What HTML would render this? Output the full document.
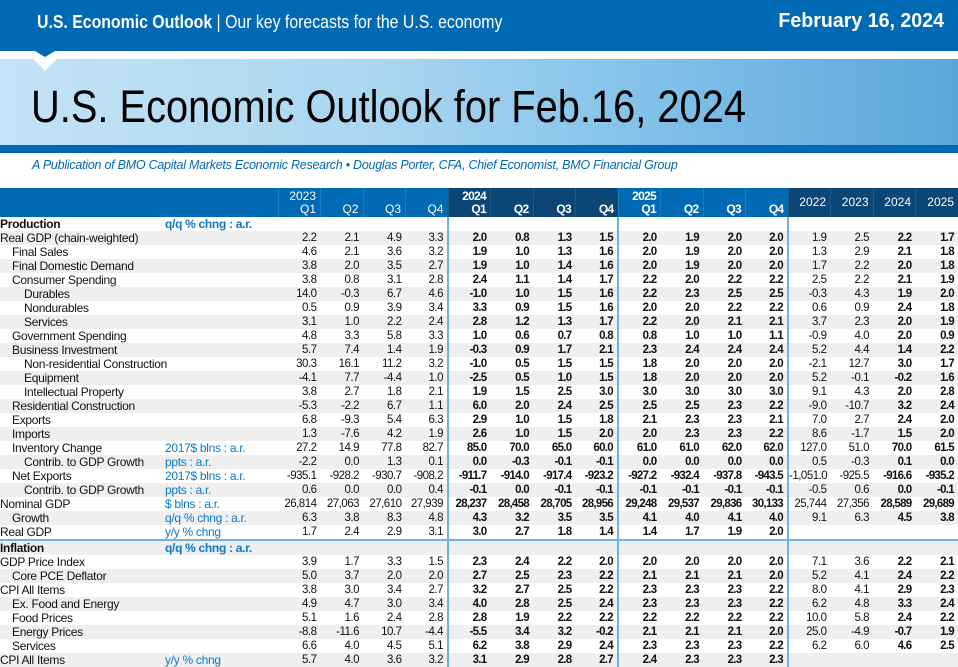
<!DOCTYPE html>
<html><head><meta charset="utf-8">
<style>
*{margin:0;padding:0;box-sizing:border-box}
body{width:958px;height:656px;overflow:hidden;background:#fff;font-family:"Liberation Sans",sans-serif;position:relative}
.top{position:absolute;left:0;top:0;width:958px;height:51px;background:#0069b4;color:#fff}
.top .l{position:absolute;left:37px;top:12px;font-size:18px;transform:scaleX(0.88);transform-origin:left;white-space:nowrap}
.top .r{position:absolute;right:14px;top:10px;font-size:20px;font-weight:bold;transform:scaleX(0.98);transform-origin:right}
.ban{position:absolute;left:0;top:59px;width:958px;height:86px;background:linear-gradient(90deg,#c4e3f6 0%,#a9d6f1 40%,#7fbfe8 70%,#5aa6dc 100%)}
.ban h1{position:absolute;left:31px;top:22px;font-weight:normal;font-size:45px;color:#000;transform:scaleX(0.885);transform-origin:left;white-space:nowrap}
.bar2{position:absolute;left:0;top:145px;width:958px;height:8px;background:#0069b4}
.sub{position:absolute;left:32px;top:158px;font-size:12.5px;font-style:italic;color:#0069b4;letter-spacing:-0.25px;white-space:nowrap}
table{position:absolute;left:0;top:188px;width:958px;border-collapse:collapse;table-layout:fixed;font-size:11.5px;letter-spacing:-0.5px}
td{height:14px;line-height:14px;padding:0 4px 0 0;text-align:right;white-space:nowrap;overflow:visible;color:#111}
td:nth-child(1){text-align:left;padding:0;letter-spacing:-0.3px;font-size:12px}
td:nth-child(2){text-align:left;color:#0a78c8;padding:0;letter-spacing:-0.3px;font-size:12px}
td:nth-child(n+7):nth-child(-n+14),td:nth-child(17),td:nth-child(18){font-weight:bold;letter-spacing:-0.7px}
td:nth-child(7),td:nth-child(11),td:nth-child(15){border-left:2px solid #6fb1e2}
tr.g td{background:#efefef}
tr.h td{height:29px;line-height:13px;color:#fff;background:#0069b4;vertical-align:bottom;padding-bottom:1px;border-left:1px solid #1a7cc2;font-weight:normal;font-size:12px;letter-spacing:0}
tr.h td.n{background:#0b4677;border-left:1px solid #1d5a8a}
tr.h td.a{vertical-align:middle;padding-bottom:0}
tr.h td:nth-child(1),tr.h td:nth-child(2){border-left:none}
tr.s td{font-weight:bold}
.i1{padding-left:12px!important}.i2{padding-left:24px!important}
tr.ln td{border-bottom:2px solid #6fb1e2}
</style></head><body>
<div class="top"><div class="l"><b>U.S. Economic Outlook</b> | Our key forecasts for the U.S. economy</div><div class="r">February 16, 2024</div></div>
<div class="ban"><h1>U.S. Economic Outlook for Feb.16, 2024</h1></div>
<svg style="position:absolute;left:0;top:51px" width="80" height="22"><polygon points="35,0 55,0 45,6" fill="#0069b4"/><polygon points="33,8 57,8 45,20" fill="#fff"/></svg>
<div class="bar2"></div>
<div class="sub">A Publication of BMO Capital Markets Economic Research • Douglas Porter, CFA, Chief Economist, BMO Financial Group</div>
<table>
<colgroup><col style="width:165px"><col style="width:113px"><col span="16" style="width:42.5px"></colgroup>
<tr class="h"><td></td><td></td><td>2023<br>Q1</td><td>Q2</td><td>Q3</td><td>Q4</td><td class="n">2024<br>Q1</td><td class="n">Q2</td><td class="n">Q3</td><td class="n">Q4</td><td>2025<br>Q1</td><td>Q2</td><td>Q3</td><td>Q4</td><td class="n a">2022</td><td class="n a">2023</td><td class="n a">2024</td><td class="n a">2025</td></tr>
<tr class="s"><td>Production</td><td>q/q % chng : a.r.</td><td></td><td></td><td></td><td></td><td></td><td></td><td></td><td></td><td></td><td></td><td></td><td></td><td></td><td></td><td></td><td></td></tr>
<tr class="g"><td>Real GDP (chain-weighted)</td><td></td><td>2.2</td><td>2.1</td><td>4.9</td><td>3.3</td><td>2.0</td><td>0.8</td><td>1.3</td><td>1.5</td><td>2.0</td><td>1.9</td><td>2.0</td><td>2.0</td><td>1.9</td><td>2.5</td><td>2.2</td><td>1.7</td></tr>
<tr><td class="i1">Final Sales</td><td></td><td>4.6</td><td>2.1</td><td>3.6</td><td>3.2</td><td>1.9</td><td>1.0</td><td>1.3</td><td>1.6</td><td>2.0</td><td>1.9</td><td>2.0</td><td>2.0</td><td>1.3</td><td>2.9</td><td>2.1</td><td>1.8</td></tr>
<tr class="g"><td class="i1">Final Domestic Demand</td><td></td><td>3.8</td><td>2.0</td><td>3.5</td><td>2.7</td><td>1.9</td><td>1.0</td><td>1.4</td><td>1.6</td><td>2.0</td><td>1.9</td><td>2.0</td><td>2.0</td><td>1.7</td><td>2.2</td><td>2.0</td><td>1.8</td></tr>
<tr><td class="i1">Consumer Spending</td><td></td><td>3.8</td><td>0.8</td><td>3.1</td><td>2.8</td><td>2.4</td><td>1.1</td><td>1.4</td><td>1.7</td><td>2.2</td><td>2.0</td><td>2.2</td><td>2.2</td><td>2.5</td><td>2.2</td><td>2.1</td><td>1.9</td></tr>
<tr class="g"><td class="i2">Durables</td><td></td><td>14.0</td><td>-0.3</td><td>6.7</td><td>4.6</td><td>-1.0</td><td>1.0</td><td>1.5</td><td>1.6</td><td>2.2</td><td>2.3</td><td>2.5</td><td>2.5</td><td>-0.3</td><td>4.3</td><td>1.9</td><td>2.0</td></tr>
<tr><td class="i2">Nondurables</td><td></td><td>0.5</td><td>0.9</td><td>3.9</td><td>3.4</td><td>3.3</td><td>0.9</td><td>1.5</td><td>1.6</td><td>2.0</td><td>2.0</td><td>2.2</td><td>2.2</td><td>0.6</td><td>0.9</td><td>2.4</td><td>1.8</td></tr>
<tr class="g"><td class="i2">Services</td><td></td><td>3.1</td><td>1.0</td><td>2.2</td><td>2.4</td><td>2.8</td><td>1.2</td><td>1.3</td><td>1.7</td><td>2.2</td><td>2.0</td><td>2.1</td><td>2.1</td><td>3.7</td><td>2.3</td><td>2.0</td><td>1.9</td></tr>
<tr><td class="i1">Government Spending</td><td></td><td>4.8</td><td>3.3</td><td>5.8</td><td>3.3</td><td>1.0</td><td>0.6</td><td>0.7</td><td>0.8</td><td>0.8</td><td>1.0</td><td>1.0</td><td>1.1</td><td>-0.9</td><td>4.0</td><td>2.0</td><td>0.9</td></tr>
<tr class="g"><td class="i1">Business Investment</td><td></td><td>5.7</td><td>7.4</td><td>1.4</td><td>1.9</td><td>-0.3</td><td>0.9</td><td>1.7</td><td>2.1</td><td>2.3</td><td>2.4</td><td>2.4</td><td>2.4</td><td>5.2</td><td>4.4</td><td>1.4</td><td>2.2</td></tr>
<tr><td class="i2">Non-residential Construction</td><td></td><td>30.3</td><td>16.1</td><td>11.2</td><td>3.2</td><td>-1.0</td><td>0.5</td><td>1.5</td><td>1.5</td><td>1.8</td><td>2.0</td><td>2.0</td><td>2.0</td><td>-2.1</td><td>12.7</td><td>3.0</td><td>1.7</td></tr>
<tr class="g"><td class="i2">Equipment</td><td></td><td>-4.1</td><td>7.7</td><td>-4.4</td><td>1.0</td><td>-2.5</td><td>0.5</td><td>1.0</td><td>1.5</td><td>1.8</td><td>2.0</td><td>2.0</td><td>2.0</td><td>5.2</td><td>-0.1</td><td>-0.2</td><td>1.6</td></tr>
<tr><td class="i2">Intellectual Property</td><td></td><td>3.8</td><td>2.7</td><td>1.8</td><td>2.1</td><td>1.9</td><td>1.5</td><td>2.5</td><td>3.0</td><td>3.0</td><td>3.0</td><td>3.0</td><td>3.0</td><td>9.1</td><td>4.3</td><td>2.0</td><td>2.8</td></tr>
<tr class="g"><td class="i1">Residential Construction</td><td></td><td>-5.3</td><td>-2.2</td><td>6.7</td><td>1.1</td><td>6.0</td><td>2.0</td><td>2.4</td><td>2.5</td><td>2.5</td><td>2.5</td><td>2.3</td><td>2.2</td><td>-9.0</td><td>-10.7</td><td>3.2</td><td>2.4</td></tr>
<tr><td class="i1">Exports</td><td></td><td>6.8</td><td>-9.3</td><td>5.4</td><td>6.3</td><td>2.9</td><td>1.0</td><td>1.5</td><td>1.8</td><td>2.1</td><td>2.3</td><td>2.3</td><td>2.1</td><td>7.0</td><td>2.7</td><td>2.4</td><td>2.0</td></tr>
<tr class="g"><td class="i1">Imports</td><td></td><td>1.3</td><td>-7.6</td><td>4.2</td><td>1.9</td><td>2.6</td><td>1.0</td><td>1.5</td><td>2.0</td><td>2.0</td><td>2.3</td><td>2.3</td><td>2.2</td><td>8.6</td><td>-1.7</td><td>1.5</td><td>2.0</td></tr>
<tr><td class="i1">Inventory Change</td><td>2017$ blns : a.r.</td><td>27.2</td><td>14.9</td><td>77.8</td><td>82.7</td><td>85.0</td><td>70.0</td><td>65.0</td><td>60.0</td><td>61.0</td><td>61.0</td><td>62.0</td><td>62.0</td><td>127.0</td><td>51.0</td><td>70.0</td><td>61.5</td></tr>
<tr class="g"><td class="i2">Contrib. to GDP Growth</td><td>ppts : a.r.</td><td>-2.2</td><td>0.0</td><td>1.3</td><td>0.1</td><td>0.0</td><td>-0.3</td><td>-0.1</td><td>-0.1</td><td>0.0</td><td>0.0</td><td>0.0</td><td>0.0</td><td>0.5</td><td>-0.3</td><td>0.1</td><td>0.0</td></tr>
<tr><td class="i1">Net Exports</td><td>2017$ blns : a.r.</td><td>-935.1</td><td>-928.2</td><td>-930.7</td><td>-908.2</td><td>-911.7</td><td>-914.0</td><td>-917.4</td><td>-923.2</td><td>-927.2</td><td>-932.4</td><td>-937.8</td><td>-943.5</td><td>-1,051.0</td><td>-925.5</td><td>-916.6</td><td>-935.2</td></tr>
<tr class="g"><td class="i2">Contrib. to GDP Growth</td><td>ppts : a.r.</td><td>0.6</td><td>0.0</td><td>0.0</td><td>0.4</td><td>-0.1</td><td>0.0</td><td>-0.1</td><td>-0.1</td><td>-0.1</td><td>-0.1</td><td>-0.1</td><td>-0.1</td><td>-0.5</td><td>0.6</td><td>0.0</td><td>-0.1</td></tr>
<tr><td>Nominal GDP</td><td>$ blns : a.r.</td><td>26,814</td><td>27,063</td><td>27,610</td><td>27,939</td><td>28,237</td><td>28,458</td><td>28,705</td><td>28,956</td><td>29,248</td><td>29,537</td><td>29,836</td><td>30,133</td><td>25,744</td><td>27,356</td><td>28,589</td><td>29,689</td></tr>
<tr class="g"><td class="i1">Growth</td><td>q/q % chng : a.r.</td><td>6.3</td><td>3.8</td><td>8.3</td><td>4.8</td><td>4.3</td><td>3.2</td><td>3.5</td><td>3.5</td><td>4.1</td><td>4.0</td><td>4.1</td><td>4.0</td><td>9.1</td><td>6.3</td><td>4.5</td><td>3.8</td></tr>
<tr class="ln"><td>Real GDP</td><td>y/y % chng</td><td>1.7</td><td>2.4</td><td>2.9</td><td>3.1</td><td>3.0</td><td>2.7</td><td>1.8</td><td>1.4</td><td>1.4</td><td>1.7</td><td>1.9</td><td>2.0</td><td></td><td></td><td></td><td></td></tr>
<tr class="g s"><td>Inflation</td><td>q/q % chng : a.r.</td><td></td><td></td><td></td><td></td><td></td><td></td><td></td><td></td><td></td><td></td><td></td><td></td><td></td><td></td><td></td><td></td></tr>
<tr><td>GDP Price Index</td><td></td><td>3.9</td><td>1.7</td><td>3.3</td><td>1.5</td><td>2.3</td><td>2.4</td><td>2.2</td><td>2.0</td><td>2.0</td><td>2.0</td><td>2.0</td><td>2.0</td><td>7.1</td><td>3.6</td><td>2.2</td><td>2.1</td></tr>
<tr class="g"><td class="i1">Core PCE Deflator</td><td></td><td>5.0</td><td>3.7</td><td>2.0</td><td>2.0</td><td>2.7</td><td>2.5</td><td>2.3</td><td>2.2</td><td>2.1</td><td>2.1</td><td>2.1</td><td>2.0</td><td>5.2</td><td>4.1</td><td>2.4</td><td>2.2</td></tr>
<tr><td>CPI All Items</td><td></td><td>3.8</td><td>3.0</td><td>3.4</td><td>2.7</td><td>3.2</td><td>2.7</td><td>2.5</td><td>2.2</td><td>2.3</td><td>2.3</td><td>2.3</td><td>2.2</td><td>8.0</td><td>4.1</td><td>2.9</td><td>2.3</td></tr>
<tr class="g"><td class="i1">Ex. Food and Energy</td><td></td><td>4.9</td><td>4.7</td><td>3.0</td><td>3.4</td><td>4.0</td><td>2.8</td><td>2.5</td><td>2.4</td><td>2.3</td><td>2.3</td><td>2.3</td><td>2.2</td><td>6.2</td><td>4.8</td><td>3.3</td><td>2.4</td></tr>
<tr><td class="i1">Food Prices</td><td></td><td>5.1</td><td>1.6</td><td>2.4</td><td>2.8</td><td>2.8</td><td>1.9</td><td>2.2</td><td>2.2</td><td>2.2</td><td>2.2</td><td>2.2</td><td>2.2</td><td>10.0</td><td>5.8</td><td>2.4</td><td>2.2</td></tr>
<tr class="g"><td class="i1">Energy Prices</td><td></td><td>-8.8</td><td>-11.6</td><td>10.7</td><td>-4.4</td><td>-5.5</td><td>3.4</td><td>3.2</td><td>-0.2</td><td>2.1</td><td>2.1</td><td>2.1</td><td>2.0</td><td>25.0</td><td>-4.9</td><td>-0.7</td><td>1.9</td></tr>
<tr><td class="i1">Services</td><td></td><td>6.6</td><td>4.0</td><td>4.5</td><td>5.1</td><td>6.2</td><td>3.8</td><td>2.9</td><td>2.4</td><td>2.3</td><td>2.3</td><td>2.3</td><td>2.2</td><td>6.2</td><td>6.0</td><td>4.6</td><td>2.5</td></tr>
<tr class="g"><td>CPI All Items</td><td>y/y % chng</td><td>5.7</td><td>4.0</td><td>3.6</td><td>3.2</td><td>3.1</td><td>2.9</td><td>2.8</td><td>2.7</td><td>2.4</td><td>2.3</td><td>2.3</td><td>2.3</td><td></td><td></td><td></td><td></td></tr>
</table>
</body></html>
